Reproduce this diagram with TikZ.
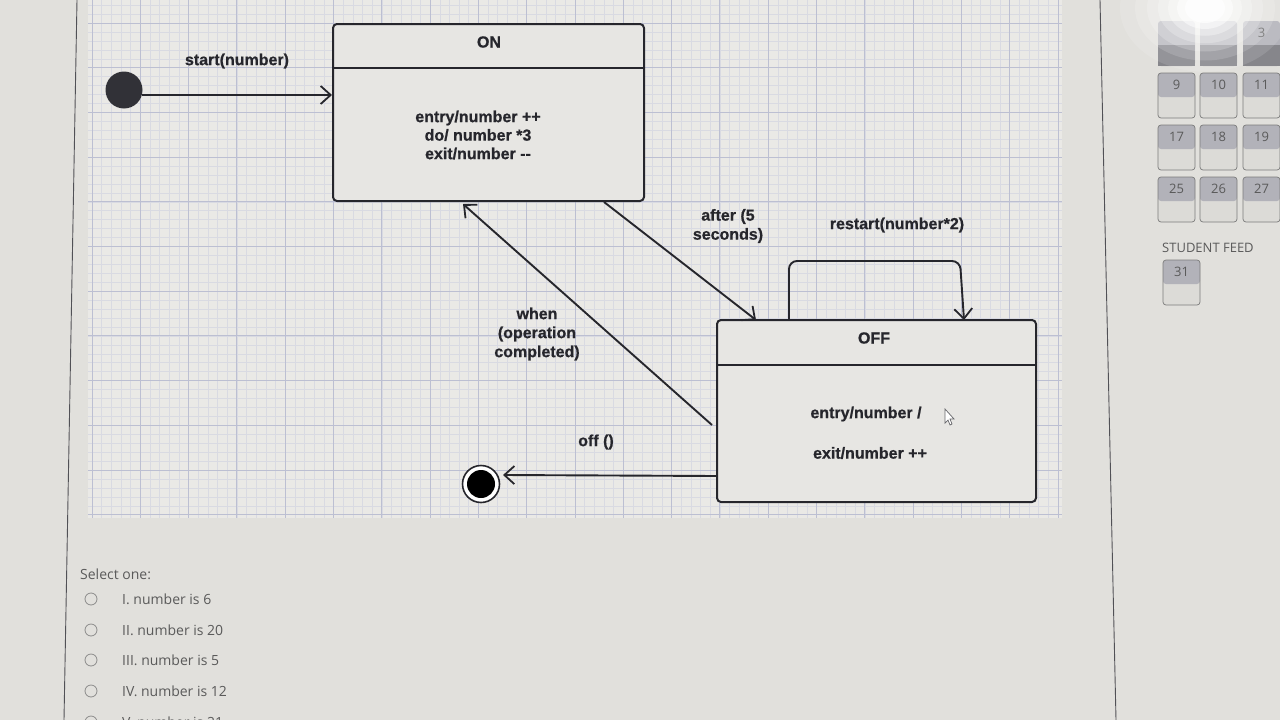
\documentclass[tikz,border=0pt]{standalone}
\usepackage{fontspec}
\setmainfont{Liberation Sans}
\newfontfamily\uifont{Open Sans}
\newfontfamily\lblfont{Liberation Sans Bold}[FakeBold=0.7]
\usetikzlibrary{arrows.meta,calc}
\definecolor{screen}{HTML}{E1E0DC}
\definecolor{gridbg}{HTML}{EAE9E6}
\definecolor{minorc}{HTML}{D9DAE2}
\definecolor{majorc}{HTML}{BCBFD2}
\definecolor{ink}{HTML}{26262C}
\definecolor{boxfill}{HTML}{E7E6E3}
\definecolor{uitext}{HTML}{5A5A5A}
\definecolor{tilehead}{HTML}{B2B2B9}
\definecolor{tilebody}{HTML}{DCDBD7}
\begin{document}
\begin{tikzpicture}[x=1pt,y=-1pt,
  statebox/.style={draw=ink, line width=2pt, fill=boxfill, rounded corners=4pt, inner sep=0pt},
  lbl/.style={font=\lblfont\fontsize{16}{18.5}\selectfont, text=ink, align=center, inner sep=1pt},
  trans/.style={draw=ink, line width=1.9pt, -{Straight Barb[length=10pt,width=18pt,line width=1.8pt]}},
  uitxt/.style={font=\uifont\fontsize{14}{16}\selectfont, text=uitext, anchor=west, inner sep=0pt},
  tilenum/.style={font=\uifont\fontsize{13}{14}\selectfont, text=uitext},
]
\useasboundingbox (0,0) rectangle (1280,720);
\fill[screen] (0,0) rectangle (1280,720);
% page borders
\draw[ink!80, line width=0.9pt] (77,0) -- (64,720);
\draw[ink!80, line width=0.9pt] (1100,0) -- (1116,720);
% grid area
\fill[gridbg] (88,0) rectangle (1062,518);
\foreach \j in {-2,...,55} {\draw[minorc, line width=0.5pt] (88,{23+8.94*\j}) -- (1062,{23+8.94*\j});}
\foreach \i in {0,...,100} {\draw[minorc, line width=0.5pt] ({92+9.66*\i},0) -- ({92+9.66*\i},518);}
\foreach \k in {0,...,11} {\draw[majorc, line width=1pt] (88,{23+44.7*\k}) -- (1062,{23+44.7*\k});}
\foreach \k in {0,...,20} {\draw[majorc, line width=1pt] ({92+48.3*\k},0) -- ({92+48.3*\k},518);}

% ON state
\node[statebox, minimum width=311pt, minimum height=177pt] (on) at (488.5,112.5) {};
\draw[ink, line width=2pt] (333,68) -- (644,68);
\node[lbl] (ontitle) at (489,42) {ON};
\node[lbl] (onbody) at (478,135) {entry/number ++\\do/ number *3\\exit/number -{}-};

% OFF state
\node[statebox, minimum width=319pt, minimum height=182pt] (off) at (876.5,411) {};
\draw[ink, line width=2pt] (717,365) -- (1036,365);
\node[lbl] (offtitle) at (874,338) {OFF};
\node[lbl] (offentry) at (866,414) {entry/number /};
\node[lbl] (offexit) at (870,453) {exit/number ++};
% mouse cursor
\draw[ink!70, line width=0.7pt, fill=white] (945,409) -- (945,423) -- (948,420) -- (950,425) -- (952,424) -- (950,419) -- (954,419) -- cycle;

% initial and final states
\node[circle, fill=ink!95, minimum size=37pt, inner sep=0pt] (init) at (124,90) {};
\node[circle, draw=ink, line width=1.6pt, fill=white, minimum size=37pt, inner sep=0pt] (final) at (481,484) {};
\node[circle, fill=black, minimum size=28pt, inner sep=0pt] (finaldot) at (481,484) {};

% connection points
\coordinate (initout) at (142,95);
\coordinate (onin) at (332,95);
\coordinate (onaft) at (604,202);
\coordinate (offaft) at (756,320);
\coordinate (offwhen) at (712,425);
\coordinate (onwhen) at (463,204);
\coordinate (offloopa) at (789,320);
\coordinate (offloopb) at (964,320);
\coordinate (offoff) at (717,476);
\coordinate (finalin) at (503,475);

% transitions
\draw[trans] (initout) -- (onin);
\node[lbl] (lstart) at (237,61) {start(number)};

\draw[trans] (onaft) -- (offaft);
\node[lbl, font=\lblfont\fontsize{16}{19}\selectfont] (lafter) at (728,226) {after (5\\seconds)};

\draw[trans] (offwhen) -- (onwhen);
\node[lbl, font=\lblfont\fontsize{16}{19}\selectfont] (lwhen) at (537,334) {when\\(operation\\completed)};

\draw[trans, rounded corners=8pt] (offloopa) -- (789,261) -- (960,261) -- (offloopb);
\node[lbl] (lrestart) at (897,225) {restart(number*2)};

\draw[trans] (offoff) -- (finalin);
\node[lbl] (loff) at (596,442) {off ()};

% quiz
\node[uitxt] (sel) at (80,574) {Select one:};
\foreach \y/\t in {599/I. number is 6, 630/II. number is 20, 660/III. number is 5, 691/IV. number is 12, 722/V. number is 21} {
  \draw[uitext!70, line width=0.8pt] (91,\y) circle (6);
  \node[uitxt] at (122,\y) {\t};
}

% sidebar tiles
\foreach \x/\n/\r in {1158/9/73, 1200/10/73, 1243/11/73, 1158/17/125, 1200/18/125, 1243/19/125, 1158/25/177, 1200/26/177, 1243/27/177, 1163/31/260} {
  \fill[tilebody, rounded corners=3pt] (\x,\r) rectangle ++(37,45);
  \fill[tilehead, rounded corners=3pt] (\x,\r) rectangle ++(37,24);
  \draw[uitext!80, line width=0.7pt, rounded corners=3pt] (\x,\r) rectangle ++(37,45);
  \node[tilenum] at ({\x+18.5},{\r+12}) {\n};
}
\foreach \x in {1158,1200,1243} {
  \fill[tilehead, rounded corners=3pt] (\x,21) rectangle ++(37,45);
  \fill[tilehead!75!black] (\x,45) rectangle ++(37,21);
}
\node[tilenum] (t3) at (1261.5,33) {3};
\node[font=\uifont\fontsize{13}{14}\selectfont, text=uitext, anchor=west, inner sep=0pt] (feed) at (1162,248) {STUDENT FEED};
% glare
\foreach \r/\o in {85/0.12, 70/0.15, 58/0.2, 47/0.25, 37/0.35, 28/0.5, 20/0.7} {
  \fill[white, opacity=\o] (1205,8) ellipse ({\r} and {\r*0.75});
}
\end{tikzpicture}
\end{document}
